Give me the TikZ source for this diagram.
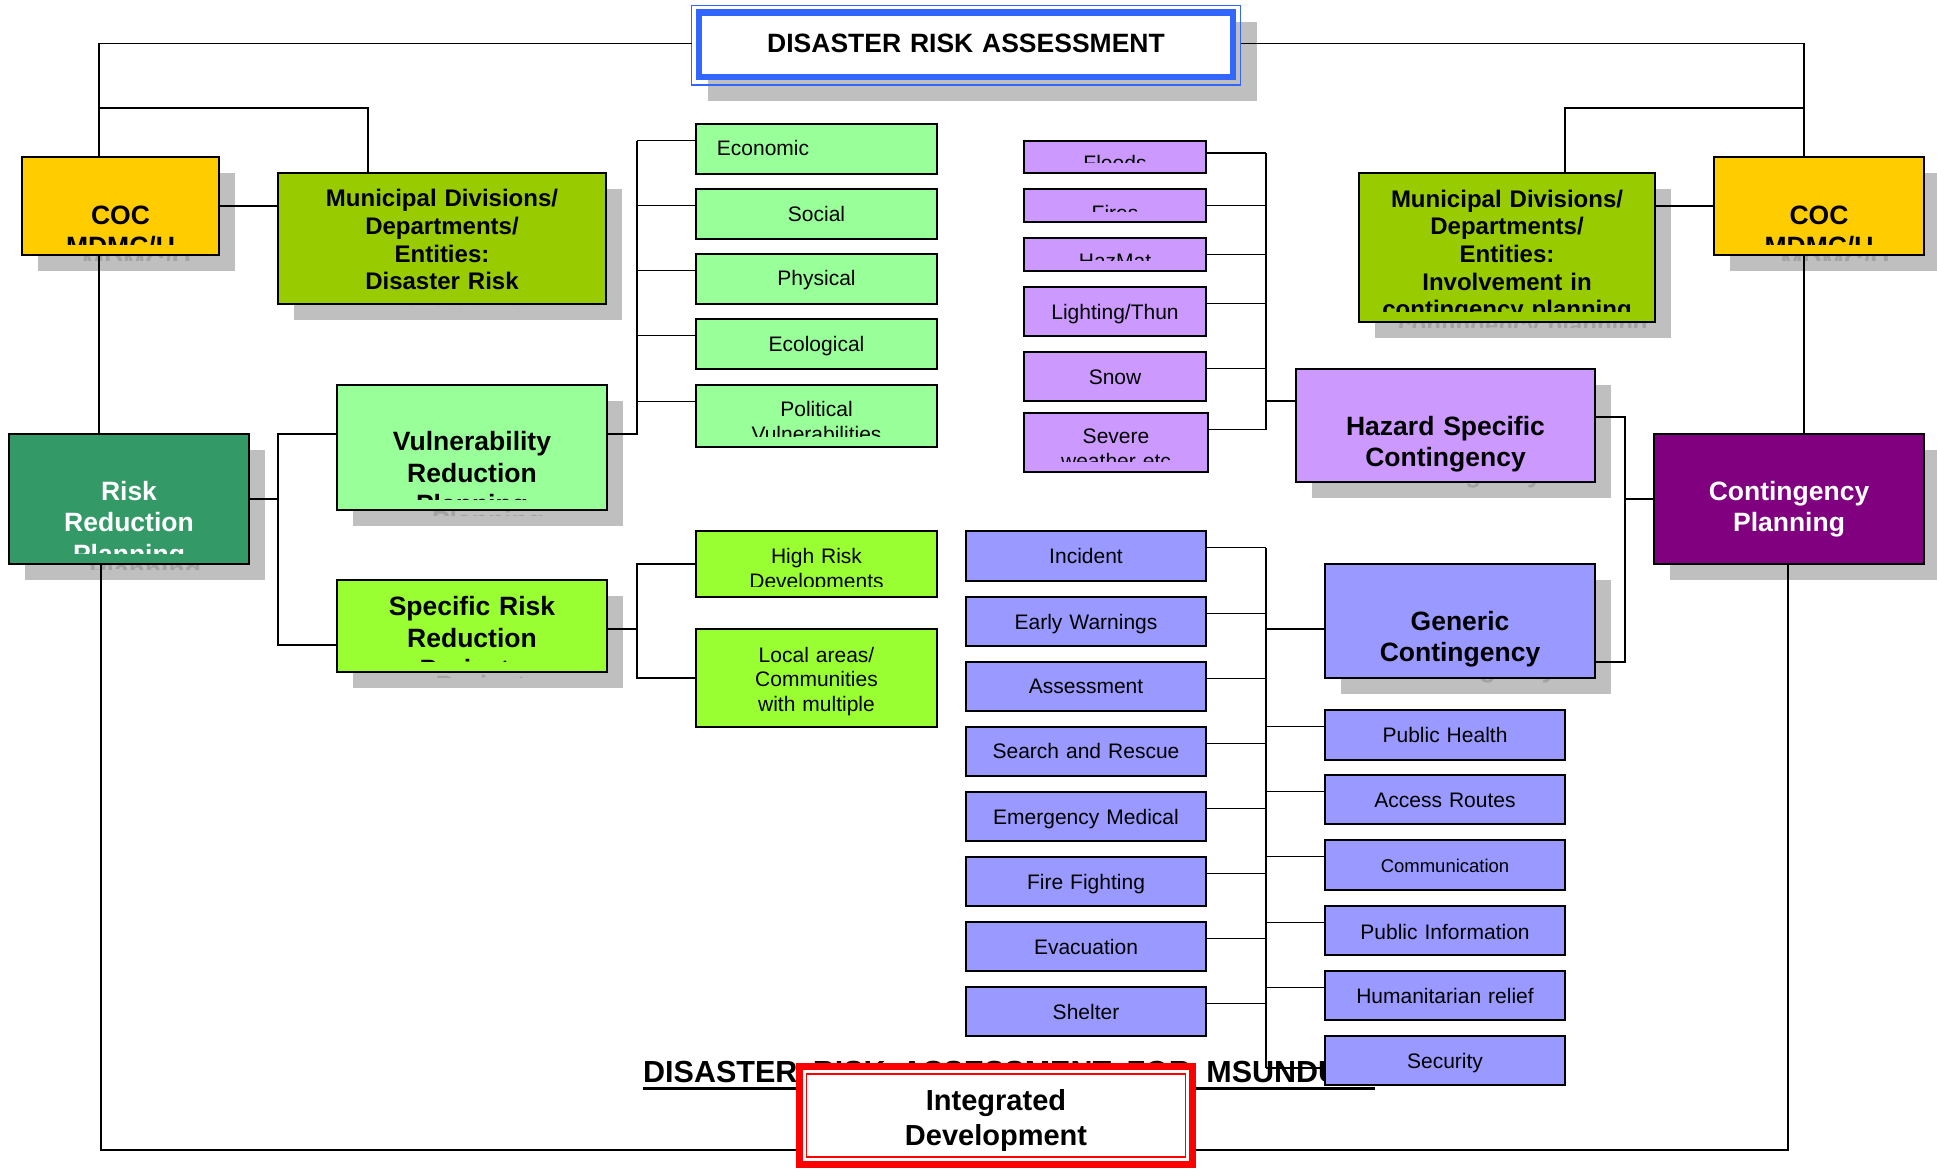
\documentclass[tikz,border=0pt]{standalone}
\usepackage{fontspec}
\setmainfont{Liberation Sans}
\usetikzlibrary{positioning,fit}

\definecolor{cocgold}{HTML}{FFCC00}
\definecolor{munigreen}{HTML}{99CC00}
\definecolor{rrpgreen}{HTML}{339966}
\definecolor{palegreen}{HTML}{99FF99}
\definecolor{sgreen}{HTML}{99FF33}
\definecolor{lilac}{HTML}{CC99FF}
\definecolor{periwinkle}{HTML}{9999FF}
\definecolor{cpurple}{HTML}{800080}
\definecolor{shade}{HTML}{BFBFBF}
\definecolor{shadetext}{HTML}{A3A3A3}
\definecolor{frameblue}{HTML}{3366FF}
\definecolor{framered}{HTML}{FF0000}

\newcommand\fsm{\fontsize{21}{24.5}\selectfont}
\newcommand\fcm{\fontsize{18.5}{22}\selectfont}
\newcommand\fbg{\fontsize{26.5}{31.3}\selectfont\bfseries}
\newcommand\fmu{\fontsize{24}{27.6}\selectfont\bfseries}
\newcommand\fid{\fontsize{29}{35}\selectfont\bfseries}
\newcommand\fdr{\fontsize{30.5}{36}\selectfont\bfseries}

\newcommand\boxtext{}
\newcommand\boxfont{}
\newcommand\boxdx{0}
\newcommand\boxdy{0}

\tikzset{
  txt/.code={\def\boxtext{#1}},
  tfont/.code={\def\boxfont{#1}},
  tdx/.code={\def\boxdx{#1}},
  tdy/.code={\def\boxdy{#1}},
  boxtext/.style={path picture={
    \clip ([shift={(4pt,-4pt)}]path picture bounding box.north west) rectangle ([shift={(-4pt,11pt)}]path picture bounding box.south east);
    \node[draw=none, fill=none, inner sep=0pt, align=center, text=#1, font=\boxfont]
      at ([shift={(\boxdx pt,\boxdy pt-10pt)}]path picture bounding box.center) {\boxtext};}},
  box/.style={draw, line width=2pt, inner sep=0pt, outer sep=0pt, boxtext=black},
  small/.style={box, tfont=\fsm},
  shadowed/.style={preaction={fill=shade, draw=none, transform canvas={shift={(16pt,-16pt)}}, boxtext=shadetext}},
  wire/.style={line width=1.7pt},
}

\begin{document}
\begin{tikzpicture}[x=1pt, y=-1pt]
   \useasboundingbox (0,0) rectangle (1937,1170);

   % caption, partly hidden by the boxes
   \node[anchor=base west, inner sep=0pt, font=\fdr] (drtitle) at (643,1082) {\spaceskip=15.4pt DISASTER RISK ASSESSMENT FOR MSUNDUZI};
   \draw[line width=3pt] ([yshift=-6pt]drtitle.base west) -- ++(732,0);

   % title
   \node[box, draw=frameblue, line width=1.3pt, shadowed, fit={(691.5,5.7) (1240.6,85)}] (dra-out) {};
   \node[box, draw=frameblue, line width=6.5pt, fill=white, fit={(699,12.5) (1233,77)}, txt={DISASTER RISK ASSESSMENT}, tfont=\fbg, tdy=2] (dra) {};

   % left side
   \node[box, shadowed, fill=cocgold, fit={(22,157) (219,255)}, txt={COC\\MDMC/U}, tfont=\fbg, tdy=-24] (cocL) {};
   \node[box, shadowed, fill=munigreen, fit={(278,173) (606,304)}, txt={Municipal Divisions/\\Departments/\\Entities:\\Disaster Risk}, tfont=\fmu] (muniL) {};
   \node[box, shadowed, fill=rrpgreen, boxtext=white, fit={(9,434) (249,564)}, txt={Risk\\Reduction\\Planning}, tfont=\fbg, tdy=-25.7] (rrp) {};
   \node[box, shadowed, fill=palegreen, fit={(337,385) (607,510)}, txt={Vulnerability\\Reduction\\Planning}, tfont=\fbg, tdy=-27.5] (vrp) {};
   \node[box, shadowed, fill=sgreen, fit={(337,580) (607,672)}, txt={Specific Risk\\Reduction\\Projects}, tfont=\fbg, tdy=-14] (srrp) {};

   % vulnerabilities
   \node[small, fill=palegreen, fit={(696,124) (937,174)}, txt=Economic, tdx=-53.5, tdy=3] (econ) {};
   \node[small, fill=palegreen, fit={(696,189) (937,239)}, txt=Social, tdy=2.5] (social) {};
   \node[small, fill=palegreen, fit={(696,254) (937,304)}, txt=Physical, tdy=1] (physical) {};
   \node[small, fill=palegreen, fit={(696,319) (937,369)}, txt=Ecological] (ecol) {};
   \node[small, fill=palegreen, fit={(696,385) (937,447)}, txt={Political\\Vulnerabilities}, tdy=-3] (polit) {};
   \node[small, fill=sgreen, fit={(696,531) (937,597)}, txt={High Risk\\Developments}, tdy=-4] (highrisk) {};
   \node[small, fill=sgreen, fit={(696,629) (937,727)}, txt={Local areas/\\Communities\\with multiple}, tdy=-1] (local) {};

   % hazards
   \node[small, fill=lilac, fit={(1024,141) (1206,173)}, txt=Floods, tdy=-3.5] (floods) {};
   \node[small, fill=lilac, fit={(1024,189) (1206,222)}, txt=Fires, tdy=-5] (fires) {};
   \node[small, fill=lilac, fit={(1024,238) (1206,271)}, txt=HazMat, tdy=-4.3] (hazmat) {};
   \node[small, fill=lilac, fit={(1024,287) (1206,336)}, txt=Lighting/Thun] (light) {};
   \node[small, fill=lilac, fit={(1024,352) (1206,401)}, txt=Snow, tdy=2.3] (snow) {};
   \node[small, fill=lilac, fit={(1024,413) (1208,472)}, txt={Severe\\weather etc}, tdy=-3.7] (severe) {};

   % generic response
   \node[small, fill=periwinkle, fit={(966,531) (1206,581)}, txt=Incident, tdy=2] (incid) {};
   \node[small, fill=periwinkle, fit={(966,597) (1206,646)}, txt=Early Warnings] (early) {};
   \node[small, fill=periwinkle, fit={(966,662) (1206,711)}, txt=Assessment, tdy=2.5] (assess) {};
   \node[small, fill=periwinkle, fit={(966,727) (1206,776)}, txt=Search and Rescue, tdy=2.5] (search) {};
   \node[small, fill=periwinkle, fit={(966,792) (1206,841)}, txt=Emergency Medical] (emerg) {};
   \node[small, fill=periwinkle, fit={(966,857) (1206,906)}, txt=Fire Fighting] (firef) {};
   \node[small, fill=periwinkle, fit={(966,922) (1206,971)}, txt=Evacuation, tdy=1.7] (evac) {};
   \node[small, fill=periwinkle, fit={(966,987) (1206,1036)}, txt=Shelter, tdy=1.5] (shelt) {};

   \node[small, fill=periwinkle, fit={(1325,710) (1565,760)}, txt=Public Health, tdy=2] (health) {};
   \node[small, fill=periwinkle, fit={(1325,775) (1565,824)}, txt=Access Routes, tdy=2] (access) {};
   \node[small, fill=periwinkle, fit={(1325,840) (1565,890)}, txt=Communication, tfont=\fcm, tdy=2.4] (comm) {};
   \node[small, fill=periwinkle, fit={(1325,906) (1565,955)}, txt=Public Information, tdy=1.3] (pinfo) {};
   \node[small, fill=periwinkle, fit={(1325,971) (1565,1020)}, txt=Humanitarian relief, tdy=1.5] (human) {};
   \node[small, fill=periwinkle, fit={(1325,1036) (1565,1085)}, txt=Security] (secur) {};

   % right side
   \node[box, shadowed, fill=munigreen, fit={(1359,173) (1655,322)}, txt={Municipal Divisions/\\Departments/\\Entities:\\Involvement in\\contingency planning}, tfont=\fmu, tdy=-7.5] (muniR) {};
   \node[box, shadowed, fill=cocgold, fit={(1714,157) (1924,255)}, txt={COC\\MDMC/U}, tfont=\fbg, tdy=-24] (cocR) {};
   \node[box, shadowed, fill=lilac, fit={(1296,369) (1595,482)}, txt={Hazard Specific\\Contingency}, tfont=\fbg, tdy=-18.2] (hazard) {};
   \node[box, shadowed, fill=periwinkle, fit={(1325,564) (1595,678)}, txt={Generic\\Contingency}, tfont=\fbg, tdy=-18] (generic) {};
   \node[box, shadowed, fill=cpurple, boxtext=white, fit={(1654,434) (1924,564)}, txt={Contingency\\Planning}, tfont=\fbg, tdy=-10] (cp) {};

   % bottom
   \node[box, draw=framered, line width=7pt, outer sep=3.5pt, fill=white, fit={(799.5,1066.5) (1192.5,1164.5)}, txt={Integrated\\Development}, tfont=\fid, tdy=-5.5] (integ) {};
   \node[draw=framered, line width=1.3pt, inner sep=0pt, fit={(806.5,1074) (1185.5,1157)}] (integ-in) {};

   % junctions
   \coordinate (jl) at (99,108);
   \coordinate (jl2) at (368,108);
   \coordinate (jr) at (1804,108);
   \coordinate (jr2) at (1565,108);
   \coordinate (bl) at (101,1150);
   \coordinate (br) at (1788,1150);
   \coordinate (busR) at (278,0);
   \coordinate (busG) at (637,0);
   \coordinate (busP) at (1266,0);
   \coordinate (busC) at (1625,0);
   \coordinate (dra-l) at ([yshift=2pt]dra-out.west);
   \coordinate (dra-r) at ([yshift=2pt]dra-out.east);

   \foreach \n in {econ,social,physical,ecol,polit,health,access,comm,pinfo,human}
      \coordinate (\n-a) at ([yshift=-16.5pt]\n.north west);
   \foreach \n in {fires,hazmat,light,snow,severe,incid,early,assess,search,emerg,firef,evac,shelt}
      \coordinate (\n-a) at ([yshift=-16.5pt]\n.north east);
   \coordinate (floods-a) at ([yshift=-12pt]floods.north east);
   \coordinate (secur-a) at ([yshift=-32pt]secur.north west);
   \coordinate (vrp-l) at ([yshift=13.5pt]vrp.west);
   \coordinate (vrp-r) at ([yshift=13.5pt]vrp.east);
   \coordinate (srrp-l) at ([yshift=-19pt]srrp.west);
   \coordinate (srrp-r) at ([yshift=-3pt]srrp.east);
   \coordinate (hazard-l) at ([yshift=24.5pt]hazard.west);
   \coordinate (hazard-r) at ([yshift=8.5pt]hazard.east);
   \coordinate (generic-l) at ([yshift=-8pt]generic.west);
   \coordinate (generic-r) at ([yshift=-41pt]generic.east);

   % trunk lines
   \draw[wire] (dra-l) -| (jl |- cocL.north);
   \draw[wire] (jl) -- (jl2) -- (jl2 |- muniL.north);
   \draw[wire] (jl |- cocL.south) -- (jl |- rrp.north);
   \draw[wire] (cocL.east) -- (cocL.east -| muniL.west);
   \draw[wire] (dra-r) -| (jr |- cocR.north);
   \draw[wire] (jr) -- (jr2) -- (jr2 |- muniR.north);
   \draw[wire] (jr |- cocR.south) -- (jr |- cp.north);
   \draw[wire] (cocR.west) -- (cocR.west -| muniR.east);
   \draw[wire] (bl |- rrp.south) -- (bl) -- (bl -| integ.west);
   \draw[wire] (br |- cp.south) -- (br) -- (br -| integ.east);

   % risk reduction
   \draw[wire] (rrp.east) -- (rrp.east -| busR);
   \draw[wire] (vrp-l) -- (vrp-l -| busR) -- (srrp-l -| busR) -- (srrp-l);
   \foreach \n in {econ,social,physical,ecol,polit}
      \draw[wire] (\n-a) -- (\n-a -| busG);
   \draw[wire] (econ-a -| busG) -- (vrp-r -| busG) -- (vrp-r);
   \draw[wire] (srrp-r) -- (srrp-r -| busG);
   \draw[wire] (highrisk.west) -| (busG |- local.west) -- (local.west);

   % contingency
   \foreach \n in {floods,fires,hazmat,light,snow,severe}
      \draw[wire] (\n-a) -- (\n-a -| busP);
   \draw[wire] (floods-a -| busP) -- (severe-a -| busP);
   \draw[wire] (hazard-l) -- (hazard-l -| busP);
   \foreach \n in {incid,early,assess,search,emerg,firef,evac,shelt,health,access,comm,pinfo,human,secur}
      \draw[wire] (\n-a) -- (\n-a -| busP);
   \draw[wire] (incid-a -| busP) -- (secur-a -| busP);
   \draw[wire] (generic-l) -- (generic-l -| busP);
   \draw[wire] (hazard-r) -- (hazard-r -| busC) -- (generic-r -| busC) -- (generic-r);
   \draw[wire] (cp.west) -- (cp.west -| busC);
\end{tikzpicture}
\end{document}
